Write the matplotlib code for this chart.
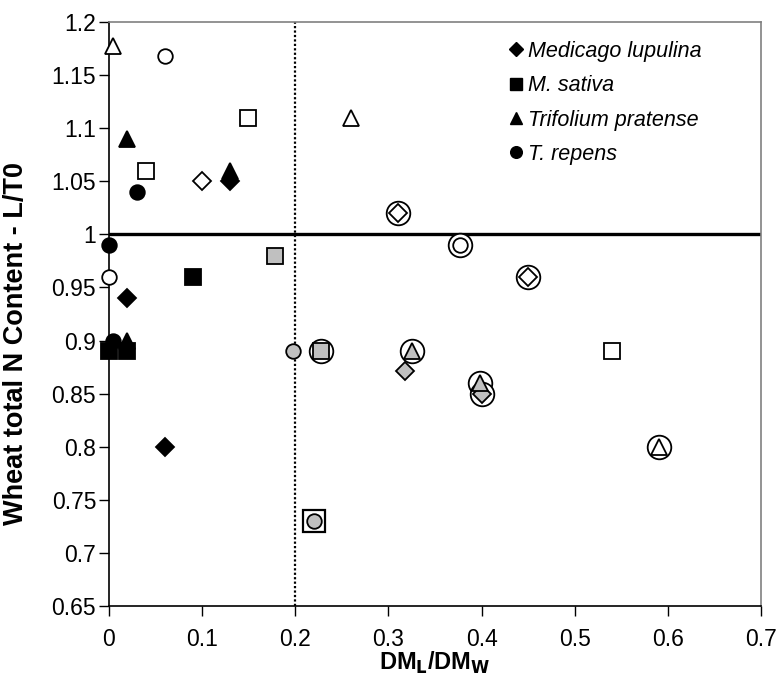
import matplotlib
matplotlib.use("Agg")
import matplotlib.pyplot as plt
from matplotlib import font_manager

names = {f.name for f in font_manager.fontManager.ttflist}
narrow = "Liberation Sans Narrow" if "Liberation Sans Narrow" in names else "Liberation Sans"
plt.rcParams['font.family'] = ['Liberation Sans', 'DejaVu Sans']

# ---- data (x = DM_L/DM_W, y = relative wheat N content) ----
species = ["Medicago lupulina", "M. sativa", "Trifolium pratense", "T. repens"]
markers = ["D", "s", "^", "o"]

# black (filled) points
ml_black_x = [0.13, 0.02, 0.06]
ml_black_y = [1.05, 0.94, 0.80]
ms_black_x = [0.09, 0.0, 0.02]
ms_black_y = [0.96, 0.89, 0.89]
tp_black_x = [0.02, 0.13, 0.02]
tp_black_y = [1.09, 1.06, 0.90]
tr_black_x = [0.03, 0.0, 0.005]
tr_black_y = [1.04, 0.99, 0.90]

# white (open) points
ml_white_x = [0.10, 0.31, 0.45]
ml_white_y = [1.05, 1.02, 0.96]
ms_white_x = [0.15, 0.04, 0.54]
ms_white_y = [1.11, 1.06, 0.89]
tp_white_x = [0.005, 0.26, 0.59]
tp_white_y = [1.178, 1.11, 0.80]
tr_white_x = [0.06, 0.0, 0.377]
tr_white_y = [1.168, 0.96, 0.99]

# grey points
ml_grey_x = [0.318, 0.40]
ml_grey_y = [0.871, 0.85]
ms_grey_x = [0.178, 0.228]
ms_grey_y = [0.98, 0.89]
tp_grey_x = [0.325, 0.398]
tp_grey_y = [0.89, 0.86]
tr_grey_x = [0.198, 0.22]
tr_grey_y = [0.89, 0.73]

# encircled points
ring_x = [0.31, 0.45, 0.377, 0.59, 0.228, 0.325, 0.398, 0.40]
ring_y = [1.02, 0.96, 0.99, 0.80, 0.89, 0.89, 0.86, 0.85]
# square frame point
frame_x = [0.22]
frame_y = [0.73]

xticks = [0, 0.1, 0.2, 0.3, 0.4, 0.5, 0.6, 0.7]
yticks = [0.65, 0.7, 0.75, 0.8, 0.85, 0.9, 0.95, 1.0, 1.05, 1.1, 1.15, 1.2]
ytick_labels = ["0.65", "0.7", "0.75", "0.8", "0.85", "0.9", "0.95", "1", "1.05", "1.1", "1.15", "1.2"]
xtick_labels = ["0", "0.1", "0.2", "0.3", "0.4", "0.5", "0.6", "0.7"]

fig = plt.figure(figsize=(7.76, 6.76), dpi=100)
ax = fig.add_axes([0.140, 0.104, 0.841, 0.863])

ax.axhline(1.0, color="black", lw=2.4, zorder=1)
ax.axvline(0.2, color="black", lw=1.6, ls=(0, (1, 1)), zorder=1)

sizes = {"D": 9.5, "s": 11, "^": 11.5, "o": 10.5}

# rings first (behind)
ax.plot(ring_x, ring_y, ls="none", marker="o", ms=17, mfc="white",
        mec="black", mew=1.3, zorder=2, clip_on=False)
ax.plot(frame_x, frame_y, ls="none", marker="s", ms=15.5, mfc="white",
        mec="black", mew=1.6, zorder=2, clip_on=False)

groups = [
    (ml_white_x, ml_white_y, ms_white_x, ms_white_y, tp_white_x, tp_white_y, tr_white_x, tr_white_y, "white"),
    (ml_grey_x, ml_grey_y, ms_grey_x, ms_grey_y, tp_grey_x, tp_grey_y, tr_grey_x, tr_grey_y, "#c0c0c0"),
    (ml_black_x, ml_black_y, ms_black_x, ms_black_y, tp_black_x, tp_black_y, tr_black_x, tr_black_y, "black"),
]
for g in groups:
    fc = g[8]
    for k, m in enumerate(markers):
        xs, ys = g[2 * k], g[2 * k + 1]
        ax.plot(xs, ys, ls="none", marker=m, ms=sizes[m], mfc=fc,
                mec="black", mew=1.3, zorder=3, clip_on=False)

# legend
handles = [plt.Line2D([], [], ls="none", marker=m, ms=sizes[m] * 0.8, mfc="black",
                      mec="black") for m in markers]
leg = ax.legend(handles, species, loc="upper left", frameon=False,
                prop={"style": "italic", "size": 15.5}, handletextpad=0.1,
                labelspacing=0.62, bbox_to_anchor=(0.61, 0.968), handlelength=0.9,
                borderpad=0, borderaxespad=0)

ax.set_xlim(0, 0.7)
ax.set_ylim(0.65, 1.2)
ax.set_xticks(xticks)
ax.set_xticklabels(xtick_labels)
ax.set_yticks(yticks)
ax.set_yticklabels(ytick_labels)
ax.tick_params(axis="both", direction="out", length=7, width=1, labelsize=16.5, colors="black")
ax.tick_params(axis="x", pad=9)
ax.tick_params(axis="y", pad=2)
for lab in ax.get_xticklabels() + ax.get_yticklabels():
    lab.set_family([narrow, 'DejaVu Sans'])

for s in ["top", "right"]:
    ax.spines[s].set_color("#808080")
    ax.spines[s].set_linewidth(1.2)
for s in ["left", "bottom"]:
    ax.spines[s].set_color("black")
    ax.spines[s].set_linewidth(1.2)

ax.set_xlabel(r"DM$_\mathbf{L}$/DM$_\mathbf{W}$", fontsize=17, fontweight="bold",
              family=[narrow, 'DejaVu Sans'])
ax.xaxis.set_label_coords(0.5, -0.075)
ax.set_ylabel("Wheat total N Content - L/T0", fontsize=19.5, fontweight="bold",
              family=[narrow, 'DejaVu Sans'])
ax.yaxis.set_label_coords(-0.122, 0.45)

fig.savefig("out.png", dpi=100)
